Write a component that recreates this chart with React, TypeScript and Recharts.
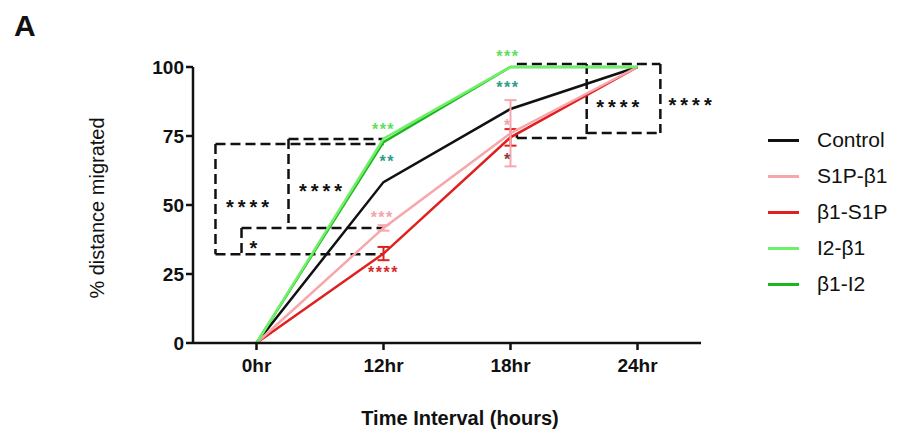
import React from 'react';
import { LineChart, Line, XAxis, YAxis, ReferenceLine, ReferenceDot, ErrorBar } from 'recharts';

const categories = ['0hr', '12hr', '18hr', '24hr'];
const xPositions = [0, 1, 2, 3];
const yTicks = [0, 25, 50, 75, 100];

const control = [0, 58.3, 84.8, 100];
const s1pB1 = [0, 41.7, 76, 100];
const b1S1p = [0, 32.4, 74.5, 100];
const i2B1 = [0, 74, 100, 100];
const b1I2 = [0, 72.8, 100, 100];
const s1pB1Err = [null, 1, 12, null];
const b1S1pErr = [null, 2.4, 3, null];

const seriesNames = ['Control', 'S1P-β1', 'β1-S1P', 'I2-β1', 'β1-I2'];
const seriesColors = ['#111111', '#f7a7ab', '#e01f1f', '#6ff06a', '#1fb51f'];

// significance brackets: [x1, y1, x2, y2] in data units
const brackets: number[][] = [
  [-0.323, 72.1, 1.0, 72.1],
  [-0.323, 72.1, -0.323, 32.2],
  [-0.323, 32.2, 1.0, 32.2],
  [0.252, 73.9, 1.0, 73.9],
  [0.252, 73.9, 0.252, 43.5],
  [-0.118, 41.7, 1.0, 41.7],
  [-0.118, 41.7, -0.118, 32.2],
  [2.05, 101.1, 3.18, 101.1],
  [2.6, 101.1, 2.6, 74.3],
  [3.18, 101.1, 3.18, 76.1],
  [2.6, 76.1, 3.18, 76.1],
  [2.05, 74.3, 2.6, 74.3],
  [2.05, 76.1, 2.05, 74.3],
];

// star annotations: [x, y, text, color, size]
const stars: [number, number, string, string, number][] = [
  [-0.055, 51.1, '****', '#111111', 20],
  [0.52, 56.9, '****', '#111111', 20],
  [-0.008, 36.2, '*', '#111111', 20],
  [2.86, 87, '****', '#111111', 20],
  [3.43, 88, '****', '#111111', 20],
  [1.0, 78.6, '***', '#5fe05a', 16],
  [1.03, 67, '**', '#2f9c8c', 16],
  [0.99, 47, '***', '#f5a3a8', 16],
  [1.0, 27, '****', '#d42a2a', 16],
  [1.98, 105, '***', '#5fe05a', 16],
  [1.98, 94, '***', '#2f9c8c', 16],
  [1.98, 80, '*', '#f5a3a8', 16],
  [1.98, 68, '*', '#8b3a3a', 16],
];

const data = categories.map((c, i) => ({
  x: xPositions[i],
  control: control[i],
  s1pB1: s1pB1[i],
  b1S1p: b1S1p[i],
  i2B1: i2B1[i],
  b1I2: b1I2[i],
  s1pB1Err: s1pB1Err[i],
  b1S1pErr: b1S1pErr[i],
}));

const FONT = '"Liberation Sans", Arial, Helvetica, sans-serif';

export default function App() {
  return (
    <div style={{ position: 'absolute', left: 0, top: 0, width: 898, height: 429, background: '#fff', fontFamily: FONT }}>
      <div style={{ position: 'absolute', left: 14, top: 9, fontSize: 30, fontWeight: 'bold', color: '#111' }}>A</div>
      <LineChart width={898} height={429} data={data} margin={{ top: 67, right: 197, left: 60, bottom: 0 }}>
        <XAxis
          dataKey="x"
          type="number"
          domain={[-0.5, 3.5]}
          ticks={xPositions}
          tickFormatter={(v: number) => categories[v] ?? ''}
          height={86}
          axisLine={{ stroke: '#111', strokeWidth: 2.5 }}
          tickLine={{ stroke: '#111', strokeWidth: 2.5 }}
          tickSize={7}
          tickMargin={9}
          tick={{ fill: '#111', fontSize: 19, fontWeight: 'bold', fontFamily: FONT }}
          label={{
            content: (p: any) => {
              const vb = p.viewBox;
              return (
                <text x={vb.x + vb.width / 2 + 13} y={425} textAnchor="middle" fill="#111" fontSize={20} fontWeight="bold" fontFamily={FONT}>
                  Time Interval (hours)
                </text>
              );
            },
          }}
        />
        <YAxis
          type="number"
          domain={[0, 100]}
          ticks={yTicks}
          width={133}
          axisLine={{ stroke: '#111', strokeWidth: 2.5 }}
          tickLine={{ stroke: '#111', strokeWidth: 2.5 }}
          tickSize={7}
          tickMargin={2}
          tick={{ fill: '#111', fontSize: 19, fontWeight: 'bold', fontFamily: FONT }}
          label={{
            content: (p: any) => {
              const vb = p.viewBox;
              const cx = vb.x + 37;
              const cy = vb.y + vb.height / 2 + 3;
              return (
                <text x={cx} y={cy} transform={`rotate(-90 ${cx} ${cy})`} textAnchor="middle" dominantBaseline="central" fill="#111" fontSize={20} fontFamily={FONT}>
                  % distance migrated
                </text>
              );
            },
          }}
        />
        {brackets.map((b, i) => (
          <ReferenceLine
            key={'b' + i}
            segment={[{ x: b[0], y: b[1] }, { x: b[2], y: b[3] }]}
            stroke="#111"
            strokeWidth={2.5}
            strokeDasharray="10 5"
            ifOverflow="visible"
          />
        ))}
        <Line dataKey="control" stroke={seriesColors[0]} strokeWidth={2.5} dot={false} isAnimationActive={false} />
        <Line dataKey="b1S1p" stroke={seriesColors[2]} strokeWidth={2.5} dot={false} isAnimationActive={false}>
          <ErrorBar dataKey="b1S1pErr" width={6} stroke={seriesColors[2]} strokeWidth={2} direction="y" />
        </Line>
        <Line dataKey="s1pB1" stroke={seriesColors[1]} strokeWidth={2.5} dot={false} isAnimationActive={false}>
          <ErrorBar dataKey="s1pB1Err" width={6} stroke={seriesColors[1]} strokeWidth={2} direction="y" />
        </Line>
        <Line dataKey="b1I2" stroke={seriesColors[4]} strokeWidth={2.5} dot={false} isAnimationActive={false} />
        <Line dataKey="i2B1" stroke={seriesColors[3]} strokeWidth={2.5} dot={false} isAnimationActive={false} />
        {stars.map((s, i) => (
          <ReferenceDot
            key={'s' + i}
            x={s[0]}
            y={s[1]}
            r={0}
            ifOverflow="visible"
            shape={(p: any) => (
              <text
                x={p.cx}
                y={p.cy + s[4] * 0.58}
                textAnchor="middle"
                fill={s[3]}
                fontSize={s[4]}
                fontWeight="bold"
                fontFamily={FONT}
                style={{ letterSpacing: s[4] > 17 ? 4 : 1.5 }}
              >
                {s[2]}
              </text>
            )}
          />
        ))}
      </LineChart>
      <div style={{ position: 'absolute', left: 768, top: 122 }}>
        {seriesNames.map((n, i) => (
          <div key={n} style={{ display: 'flex', alignItems: 'center', height: 36 }}>
            <div style={{ width: 31, height: 3, background: seriesColors[i], marginRight: 18 }} />
            <span style={{ fontSize: 21, color: '#111', fontFamily: FONT }}>{n}</span>
          </div>
        ))}
      </div>
    </div>
  );
}
